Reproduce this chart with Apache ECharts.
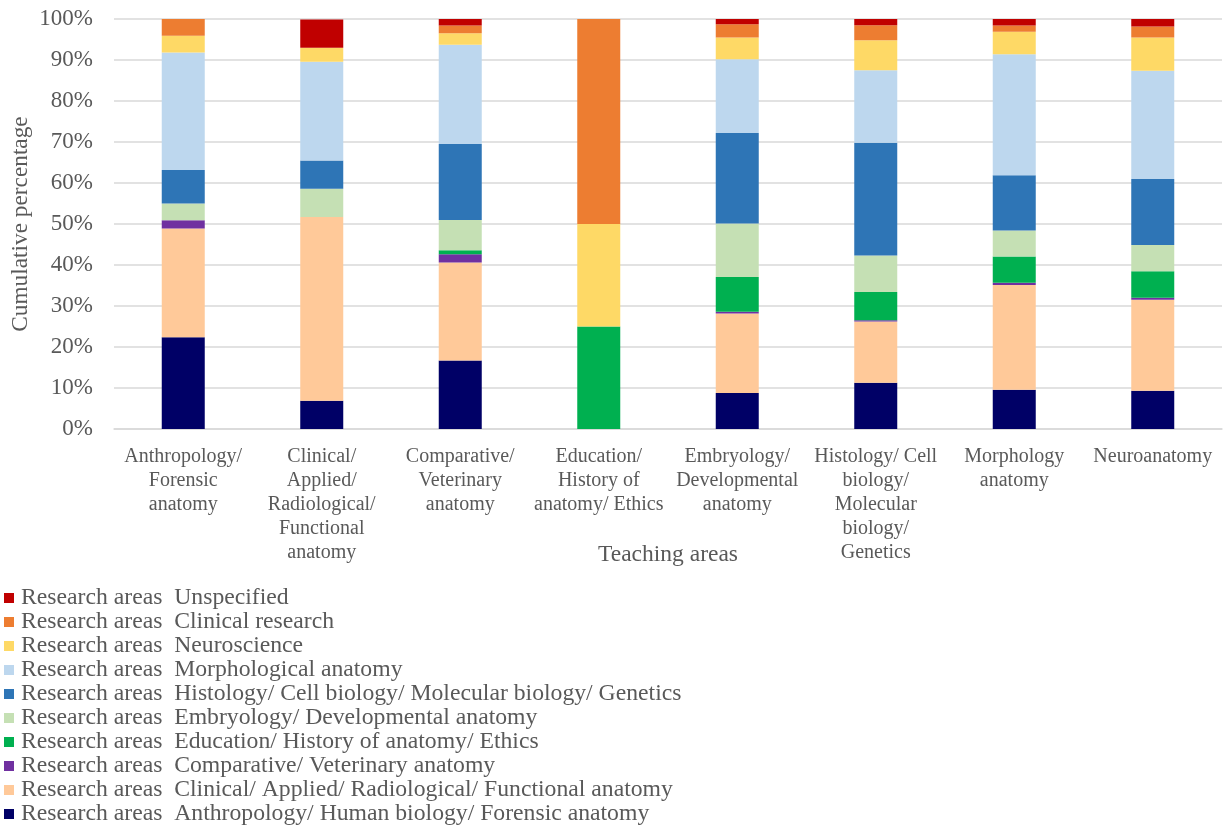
<!DOCTYPE html>
<html>
<head>
<meta charset="utf-8">
<title>Research areas by teaching area</title>
<script src="https://cdn.jsdelivr.net/npm/echarts@6/dist/echarts.min.js"></script>
<style>
  html, body { margin: 0; padding: 0; background: #ffffff; }
  #chart { width: 1223px; height: 825px; }
</style>
</head>
<body>
<div id="chart"></div>
<script>
// Teaching areas (x categories)
const teachingAreas = [
  'Anthropology/\nForensic\nanatomy',
  'Clinical/\nApplied/\nRadiological/\nFunctional\nanatomy',
  'Comparative/\nVeterinary\nanatomy',
  'Education/\nHistory of\nanatomy/ Ethics',
  'Embryology/\nDevelopmental\nanatomy',
  'Histology/ Cell\nbiology/\nMolecular\nbiology/\nGenetics',
  'Morphology\nanatomy',
  'Neuroanatomy'
];

// Share (%) of each research area within each teaching area
const anthropologyHumanBiology = [22.4, 6.9, 16.7, 0, 8.8, 11.3, 9.6, 9.3];
const clinicalApplied          = [26.5, 44.8, 23.9, 0, 19.4, 14.9, 25.5, 22.2];
const comparativeVeterinary    = [2.0, 0, 2.0, 0, 0.4, 0.3, 0.6, 0.5];
const educationHistory         = [0, 0, 1.0, 25, 8.5, 6.9, 6.4, 6.5];
const embryologyDevelopmental  = [4.1, 6.9, 7.4, 0, 13.0, 8.9, 6.3, 6.4];
const histologyCellBiology     = [8.2, 6.9, 18.5, 0, 22.1, 27.5, 13.5, 16.1];
const morphologicalAnatomy     = [28.6, 24.1, 24.2, 0, 18.0, 17.7, 29.5, 26.4];
const neuroscience             = [4.1, 3.4, 2.8, 25, 5.3, 7.3, 5.5, 8.1];
const clinicalResearch         = [4.1, 0, 1.9, 50, 3.2, 3.7, 1.5, 2.7];
const unspecified              = [0, 6.9, 1.6, 0, 1.3, 1.5, 1.6, 1.8];

// Research area names, bottom of the stack first
const researchAreas = [
  'Anthropology/ Human biology/ Forensic anatomy',
  'Clinical/ Applied/ Radiological/ Functional anatomy',
  'Comparative/ Veterinary anatomy',
  'Education/ History of anatomy/ Ethics',
  'Embryology/ Developmental anatomy',
  'Histology/ Cell biology/ Molecular biology/ Genetics',
  'Morphological anatomy',
  'Neuroscience',
  'Clinical research',
  'Unspecified'
];
const areaValues = [
  anthropologyHumanBiology, clinicalApplied, comparativeVeterinary,
  educationHistory, embryologyDevelopmental, histologyCellBiology,
  morphologicalAnatomy, neuroscience, clinicalResearch, unspecified
];
const areaColors = [
  '#000066', '#FFC999', '#7030A0', '#00B050', '#C5E0B4',
  '#2E75B6', '#BDD7EE', '#FED966', '#ED7D31', '#C00000'
];

// Y axis ticks
const yTickMax = 100;
const yTickStep = 10;

const FONT = '"Liberation Serif", "Times New Roman", serif';
const TEXT = '#595959';

const chart = echarts.init(document.getElementById('chart'), null, { renderer: 'canvas' });

const series = researchAreas.map((name, i) => ({
  name: name,
  type: 'bar',
  stack: 'total',
  barWidth: 43,
  itemStyle: { color: areaColors[i] },
  emphasis: { disabled: true },
  data: areaValues[i]
}));

chart.setOption({
  animation: false,
  backgroundColor: '#ffffff',
  textStyle: { fontFamily: FONT, color: TEXT },
  grid: {
    left: 114, right: 1, top: 19, bottom: 396,
    containLabel: false,
    outerBoundsMode: 'none'
  },
  xAxis: {
    type: 'category',
    data: teachingAreas,
    name: 'Teaching areas',
    nameLocation: 'middle',
    nameGap: 114,
    nameMoveOverlap: false,
    nameTextStyle: { fontFamily: FONT, fontSize: 23.5, color: TEXT },
    axisLine: { show: true, lineStyle: { color: '#d9d9d9', width: 1.5 } },
    axisTick: { show: false },
    axisLabel: {
      interval: 0,
      margin: 16,
      fontFamily: FONT,
      fontSize: 20,
      lineHeight: 24,
      color: TEXT,
      align: 'center',
      verticalAlign: 'top'
    }
  },
  yAxis: {
    type: 'value',
    min: 0,
    max: yTickMax,
    interval: yTickStep,
    name: 'Cumulative percentage',
    nameLocation: 'middle',
    nameGap: 82,
    nameMoveOverlap: false,
    nameTextStyle: { fontFamily: FONT, fontSize: 23.3, color: TEXT },
    axisLine: { show: false },
    axisTick: { show: false },
    splitLine: { show: true, lineStyle: { color: '#d9d9d9', width: 1.5 } },
    axisLabel: {
      formatter: '{value}%',
      margin: 21,
      fontFamily: FONT,
      fontSize: 23,
      color: TEXT
    }
  },
  legend: {
    orient: 'vertical',
    left: 4,
    top: 586,
    height: 240,
    padding: 0,
    itemGap: 0,
    itemWidth: 10,
    itemHeight: 10,
    icon: 'rect',
    data: researchAreas.slice().reverse(),
    formatter: name => 'Research areas  ' + name,
    textStyle: { fontFamily: FONT, fontSize: 23.7, lineHeight: 24, color: TEXT, padding: [0, 0, 0, 2] },
    selectedMode: false
  },
  series: series
});
</script>
</body>
</html>
